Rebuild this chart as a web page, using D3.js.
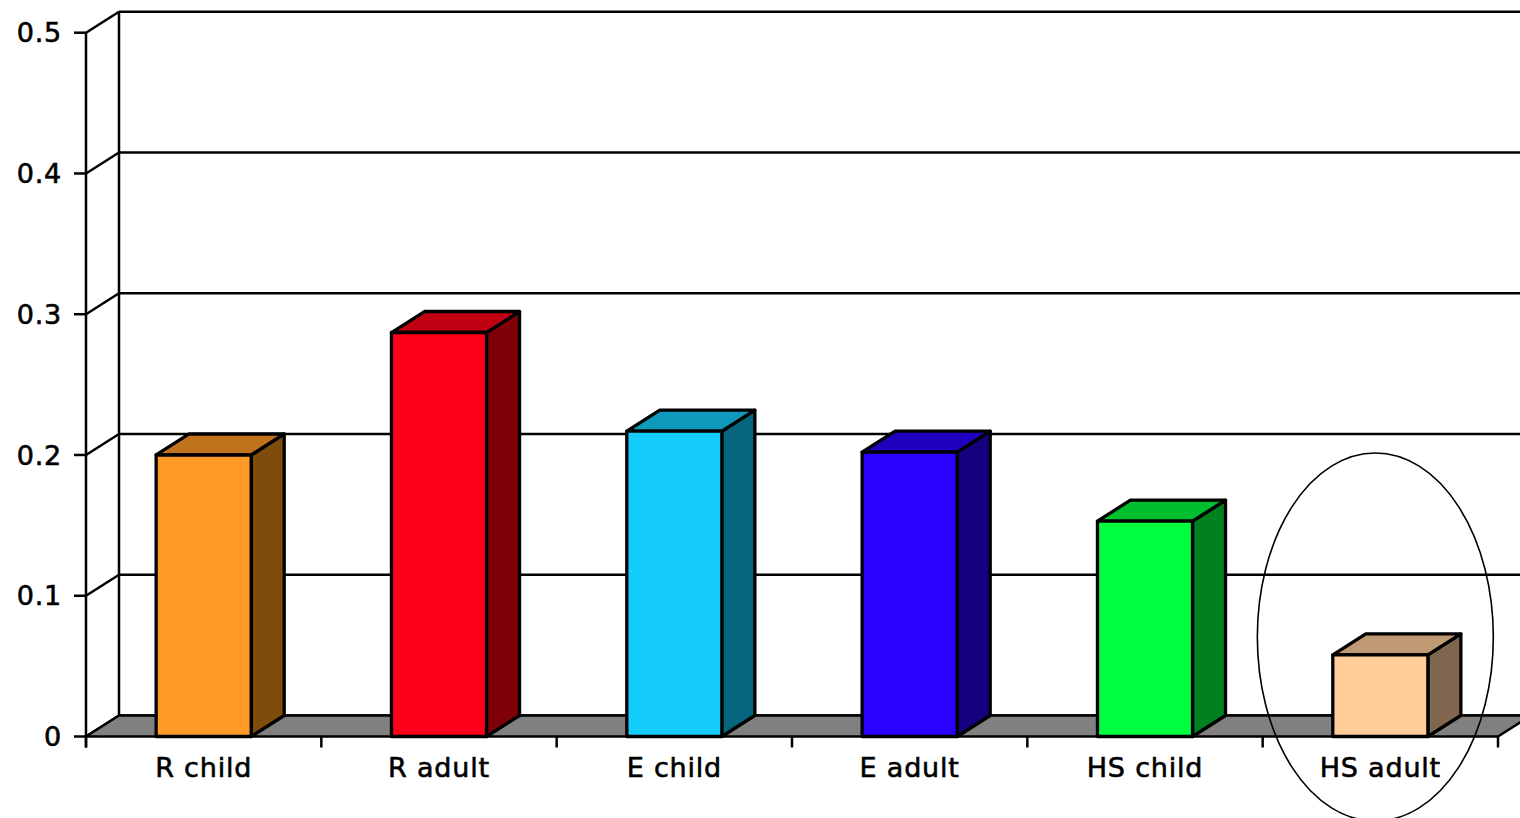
<!DOCTYPE html>
<html>
<head>
<meta charset="utf-8">
<script src="https://cdn.jsdelivr.net/npm/d3@7/dist/d3.min.js"></script>
<style>
  html, body { margin: 0; padding: 0; background: #fff; }
  svg { display: block; }
  text { font-family: "DejaVu Sans", Verdana, sans-serif; fill: #000; stroke: #000; stroke-width: 0.6px; letter-spacing: 0.8px; }
</style>
</head>
<body>
<script>
// Chart data
const categories = ["R child", "R adult", "E child", "E adult", "HS child", "HS adult"];
const values = [0.2, 0.287, 0.217, 0.202, 0.153, 0.058];
const tickValues = [0, 0.1, 0.2, 0.3, 0.4, 0.5];
const tickLabels = ["0", "0.1", "0.2", "0.3", "0.4", "0.5"];

// Face colours per bar: front, top, side
const frontColors = ["#FF9A26", "#FF0019", "#15CDFA", "#2B00FF", "#00FF3F", "#FFCC9A"];
const topColors   = ["#C0731B", "#BF0012", "#0F9ABC", "#2000BF", "#00BF2F", "#BF9973"];
const sideColors  = ["#7F4C0E", "#80000A", "#07667D", "#150080", "#00801F", "#806650"];

const W = 1520, H = 818;
const DX = 33, DY = 21; // depth offset of the 3D box

const svg = d3.select("body").append("svg")
  .attr("width", W).attr("height", H);

const y = d3.scaleLinear().domain([0, 0.5]).range([736.5, 32.7]);
const x = d3.scaleBand().domain(categories).range([86, 1498])
  .paddingInner(0.596).paddingOuter(0.298);
const step = x.step();
const x0 = 86, x1 = 1498;
const LW = 2.5;

// Back wall: gridlines and left edge
const wall = svg.append("g");
wall.selectAll("line.grid").data(tickValues).join("line")
  .attr("x1", x0 + DX).attr("x2", W + 5)
  .attr("y1", d => y(d) - DY).attr("y2", d => y(d) - DY)
  .attr("stroke", "#000").attr("stroke-width", LW);
wall.append("line")
  .attr("x1", x0 + DX).attr("x2", x0 + DX)
  .attr("y1", y(0.5) - DY).attr("y2", y(0) - DY)
  .attr("stroke", "#000").attr("stroke-width", LW);
// Side wall diagonals at each tick
wall.selectAll("line.diag").data(tickValues).join("line")
  .attr("x1", x0).attr("y1", d => y(d))
  .attr("x2", x0 + DX).attr("y2", d => y(d) - DY)
  .attr("stroke", "#000").attr("stroke-width", LW);

// Floor
svg.append("path")
  .attr("d", `M${x0},${y(0)} L${x1},${y(0)} L${x1 + DX},${y(0) - DY} L${x0 + DX},${y(0) - DY} Z`)
  .attr("fill", "#808080").attr("stroke", "#000").attr("stroke-width", LW)
  .attr("stroke-linejoin", "round");

// Bars as 3D boxes
const bars = svg.append("g").selectAll("g").data(categories).join("g");
bars.each(function (c, i) {
  const g = d3.select(this);
  const bx0 = x(c), bx1 = x(c) + x.bandwidth();
  const yt = y(values[i]), yb = y(0);
  const common = s => s.attr("stroke", "#000").attr("stroke-width", 3.3).attr("stroke-linejoin", "round");
  common(g.append("path")
    .attr("d", `M${bx1},${yb} L${bx1 + DX},${yb - DY} L${bx1 + DX},${yt - DY} L${bx1},${yt} Z`)
    .attr("fill", sideColors[i]));
  common(g.append("path")
    .attr("d", `M${bx0},${yt} L${bx1},${yt} L${bx1 + DX},${yt - DY} L${bx0 + DX},${yt - DY} Z`)
    .attr("fill", topColors[i]));
  common(g.append("rect")
    .attr("x", bx0).attr("y", yt)
    .attr("width", bx1 - bx0).attr("height", yb - yt)
    .attr("fill", frontColors[i]));
});

// Value axis (front)
const axisG = svg.append("g");
axisG.append("line")
  .attr("x1", x0).attr("x2", x0)
  .attr("y1", y(0.5)).attr("y2", y(0) + 11)
  .attr("stroke", "#000").attr("stroke-width", LW);
axisG.selectAll("line.tick").data(tickValues).join("line")
  .attr("x1", x0 - 12).attr("x2", x0)
  .attr("y1", d => y(d)).attr("y2", d => y(d))
  .attr("stroke", "#000").attr("stroke-width", LW);
axisG.selectAll("text").data(tickValues).join("text")
  .attr("x", 62).attr("y", d => y(d))
  .attr("dy", "0.36em")
  .attr("text-anchor", "end")
  .attr("font-size", 27)
  .text((d, i) => tickLabels[i]);

// Category axis ticks and labels
const boundaries = d3.range(categories.length + 1).map(k => x0 + k * step);
axisG.selectAll("line.xtick").data(boundaries).join("line")
  .attr("x1", d => d).attr("x2", d => d)
  .attr("y1", y(0)).attr("y2", y(0) + 11)
  .attr("stroke", "#000").attr("stroke-width", LW);
axisG.selectAll("text.cat").data(categories).join("text")
  .attr("class", "cat")
  .attr("x", d => x(d) + x.bandwidth() / 2)
  .attr("y", 777)
  .attr("text-anchor", "middle")
  .attr("font-size", 27)
  .text(d => d);

// Highlight ring around the last category
const last = categories[categories.length - 1];
svg.append("ellipse")
  .attr("cx", x(last) + x.bandwidth() / 2 - 5)
  .attr("cy", 637)
  .attr("rx", 118).attr("ry", 184)
  .attr("fill", "none").attr("stroke", "#000").attr("stroke-width", 1.6);
</script>
</body>
</html>
